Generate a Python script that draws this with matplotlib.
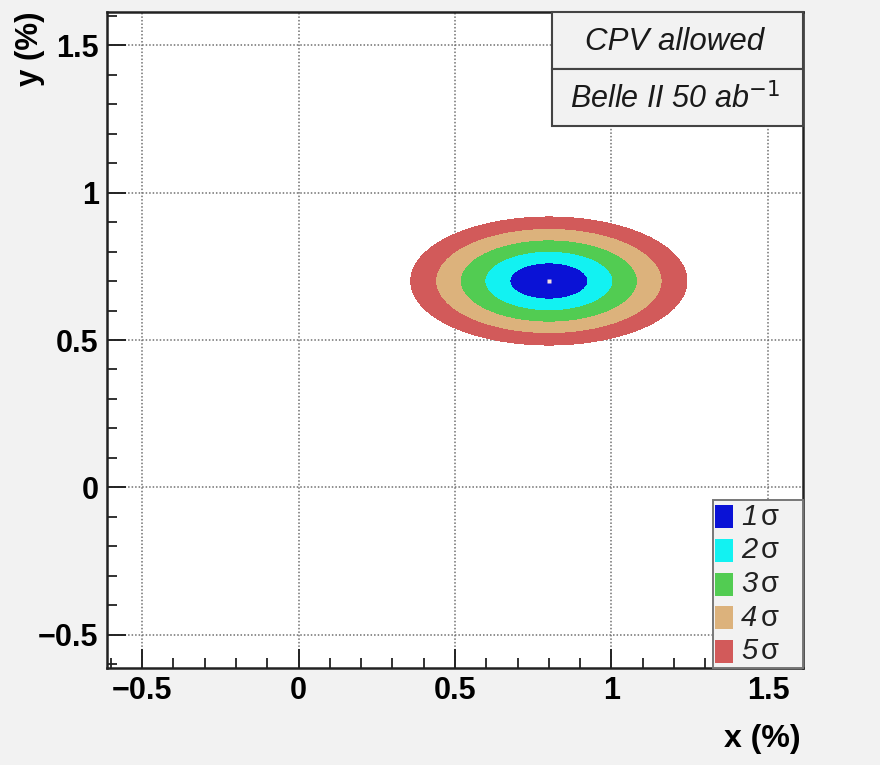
import numpy as np
import matplotlib
matplotlib.use("Agg")
import matplotlib.pyplot as plt
from matplotlib.patches import Rectangle

# Best-fit point and fit uncertainties (in %)
best_x = 0.80
best_y = 0.70
sigma_x = 0.0823
sigma_y = 0.0405

# Confidence regions: delta chi2 thresholds for 2 parameters
region_labels = ["1", "2", "3", "4", "5"]
delta_chi2 = [2.30, 6.18, 11.83, 19.33, 28.74]
region_colors = ["#0a12d6", "#12f2f2", "#52cc52", "#dcb27c", "#d25a5a"]

x_range = (-0.612, 1.612)
y_range = (-0.612, 1.612)
major_ticks = [-0.5, 0, 0.5, 1, 1.5]
tick_labels = ["\u22120.5", "0", "0.5", "1", "1.5"]

plt.rcParams["font.family"] = ["Liberation Sans", "DejaVu Sans"]

fig = plt.figure(figsize=(8.8, 7.65), dpi=100, facecolor="#f2f2f2")
ax = fig.add_axes([107 / 880, 1 - 668 / 765, 696 / 880, 656 / 765])
ax.set_facecolor("white")
ax.set_xlim(*x_range)
ax.set_ylim(*y_range)

# chi2 surface and filled confidence regions
gx = np.linspace(x_range[0], x_range[1], 900)
gy = np.linspace(y_range[0], y_range[1], 900)
X, Y = np.meshgrid(gx, gy)
chi2 = ((X - best_x) / sigma_x) ** 2 + ((Y - best_y) / sigma_y) ** 2
ax.contourf(X, Y, chi2, levels=[0] + delta_chi2, colors=region_colors, zorder=2)
ax.plot([best_x], [best_y], marker="s", ms=2.5, color="#f4dede", mec="none", zorder=3)

# grid, ticks, frame
ax.set_xticks(major_ticks)
ax.set_yticks(major_ticks)
ax.set_xticklabels(tick_labels)
ax.set_yticklabels(tick_labels)
ax.set_xticks(np.arange(-0.6, 1.61, 0.1), minor=True)
ax.set_yticks(np.arange(-0.6, 1.61, 0.1), minor=True)
ax.grid(True, which="major", linestyle=(0, (1, 1.3)), color="#707070", linewidth=1.1, zorder=1)
ax.set_axisbelow(True)
ax.tick_params(which="major", direction="in", length=14, width=1.4, color="#222222",
               labelsize=22, pad=6)
ax.tick_params(which="minor", direction="in", length=7, width=1.3, color="#222222")
ax.tick_params(top=False, right=False, which="both")
for lbl in ax.get_xticklabels() + ax.get_yticklabels():
    lbl.set_fontweight("bold")
for side, sp in ax.spines.items():
    sp.set_linewidth(1.8)
    sp.set_color("#222222")

# axis titles
fig.text(30 / 880, 1 - 12 / 765, "y (%)", rotation=90, ha="center", va="top",
         fontsize=22.5, fontweight="bold")
fig.text(801 / 880, 1 - 739 / 765, "x (%)", ha="right", va="center",
         fontsize=23, fontweight="bold")

# information boxes in the upper right
box_x0 = (552 - 107) / 696
box_edges = [1.0, 1 - (69 - 12) / 656, 1 - (126 - 12) / 656]
box_texts = ["CPV allowed", "Belle II 50 ab$^{\u22121}$"]
box_sizes = [22.5, 22]
for top, bottom, txt, fs in zip(box_edges[:-1], box_edges[1:], box_texts, box_sizes):
    ax.add_patch(Rectangle((box_x0, bottom), 1 - box_x0, top - bottom,
                           transform=ax.transAxes, facecolor="#f2f2f2",
                           edgecolor="#444444", linewidth=1.5, zorder=5, clip_on=False))
    ax.text((box_x0 + 1) / 2 - 0.004, (top + bottom) / 2 - 0.003, txt,
            transform=ax.transAxes, ha="center", va="center", fontsize=fs,
            style="italic", zorder=6, color="#1a1a1a", math_fontfamily="dejavusans")

# legend of confidence regions
leg_x0 = (713 - 107) / 696
leg_top = (668 - 500) / 656
ax.add_patch(Rectangle((leg_x0, 0), 1 - leg_x0, leg_top, transform=ax.transAxes,
                       facecolor="#f2f2f2", edgecolor="#777777", linewidth=1.4,
                       zorder=5, clip_on=False))
row_h = leg_top / 5
sq_w = 18 / 696
sq_h = 23 / 656
for i, (lab, col) in enumerate(zip(region_labels, region_colors)):
    yc = leg_top - row_h * (i + 0.5)
    ax.add_patch(Rectangle((leg_x0 + 2 / 696, yc - sq_h / 2), sq_w, sq_h,
                           transform=ax.transAxes, facecolor=col, edgecolor="none",
                           zorder=6, clip_on=False))
    ax.text(leg_x0 + 28 / 696, yc, lab, transform=ax.transAxes, ha="left",
            va="center", fontsize=21, style="italic", color="#222222", zorder=6)
    ax.text(leg_x0 + 48 / 696, yc, "\u03c3", transform=ax.transAxes, ha="left",
            va="center", fontsize=21, color="#222222", zorder=6)

fig.savefig("out.png", dpi=100, facecolor=fig.get_facecolor())
